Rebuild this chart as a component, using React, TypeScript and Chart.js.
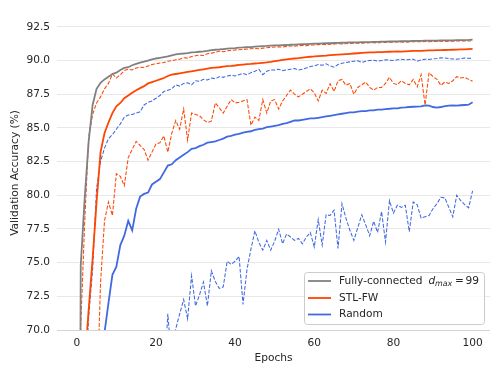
import React, { useEffect, useRef } from 'react';
import { Chart, registerables } from 'chart.js';

Chart.register(...registerables);

// ---- data (epochs 0..100) ----
const fullyConnected = [
  10, 74.8, 79.8, 84.0, 86.7, 87.9, 88.35, 88.6, 88.8, 89.0,
  89.1, 89.3, 89.45, 89.5, 89.65, 89.75, 89.85, 89.92, 90.0, 90.08,
  90.15, 90.2, 90.25, 90.3, 90.38, 90.45, 90.5, 90.52, 90.55, 90.6,
  90.62, 90.65, 90.68, 90.72, 90.77, 90.8, 90.82, 90.85, 90.88, 90.9,
  90.92, 90.95, 90.97, 91.0, 91.0, 91.03, 91.05, 91.07, 91.08, 91.1,
  91.12, 91.13, 91.14, 91.15, 91.17, 91.18, 91.2, 91.21, 91.22, 91.24,
  91.25, 91.26, 91.27, 91.28, 91.29, 91.3, 91.31, 91.32, 91.33, 91.34,
  91.35, 91.35, 91.36, 91.37, 91.37, 91.38, 91.39, 91.4, 91.4, 91.41,
  91.42, 91.42, 91.43, 91.44, 91.44, 91.45, 91.46, 91.46, 91.47, 91.47,
  91.48, 91.48, 91.49, 91.5, 91.5, 91.5, 91.51, 91.52, 91.52, 91.53,
  91.55,
];

const stlFw = [
  10, 40, 67.5, 71.5, 75.3, 79.5, 83.2, 84.6, 85.4, 86.1,
  86.6, 86.85, 87.2, 87.4, 87.6, 87.8, 87.95, 88.1, 88.3, 88.4,
  88.5, 88.6, 88.7, 88.85, 88.95, 89.0, 89.05, 89.1, 89.15, 89.2,
  89.25, 89.3, 89.35, 89.4, 89.45, 89.48, 89.5, 89.55, 89.58, 89.6,
  89.63, 89.67, 89.7, 89.73, 89.75, 89.78, 89.8, 89.83, 89.86, 89.9,
  89.95, 90.0, 90.04, 90.08, 90.12, 90.15, 90.18, 90.22, 90.25, 90.28,
  90.3, 90.33, 90.35, 90.37, 90.4, 90.42, 90.44, 90.46, 90.48, 90.5,
  90.52, 90.54, 90.56, 90.58, 90.6, 90.61, 90.62, 90.63, 90.64, 90.65,
  90.66, 90.67, 90.66, 90.68, 90.7, 90.71, 90.72, 90.72, 90.74, 90.75,
  90.76, 90.77, 90.77, 90.78, 90.79, 90.8, 90.81, 90.82, 90.83, 90.85,
  90.87,
];

const randomTopo = [
  10, 30, 45, 52, 58, 62, 66, 69.8, 72.0, 74.1,
  74.7, 76.3, 77.0, 78.1, 77.4, 79.0, 79.9, 80.1, 80.2, 80.8,
  81.0, 81.2, 81.7, 82.2, 82.3, 82.6, 82.8, 83.0, 83.2, 83.45,
  83.5, 83.65, 83.75, 83.9, 83.95, 84.0, 84.1, 84.2, 84.35, 84.4,
  84.5, 84.55, 84.65, 84.7, 84.75, 84.85, 84.9, 84.95, 85.05, 85.1,
  85.15, 85.2, 85.3, 85.35, 85.45, 85.55, 85.55, 85.6, 85.65, 85.7,
  85.7, 85.75, 85.8, 85.85, 85.9, 85.95, 86.0, 86.05, 86.1, 86.15,
  86.15, 86.2, 86.25, 86.25, 86.3, 86.3, 86.35, 86.35, 86.4, 86.42,
  86.45, 86.45, 86.5, 86.52, 86.55, 86.57, 86.58, 86.6, 86.67, 86.65,
  86.55, 86.5, 86.55, 86.62, 86.65, 86.67, 86.65, 86.68, 86.7, 86.72,
  86.9,
];

const stlFwDashA = [
  10, 70.3, 78.0, 84.3, 86.0, 86.85, 87.3, 87.9, 88.3, 89.0,
  88.7, 88.95, 89.25, 89.35, 89.3, 89.45, 89.5, 89.48, 89.6, 89.7,
  89.75, 89.82, 89.85, 89.95, 89.98, 90.05, 90.1, 90.2, 90.18, 90.3,
  90.35, 90.4, 90.38, 90.5, 90.55, 90.6, 90.7, 90.65, 90.72, 90.75,
  90.78, 90.8, 90.82, 90.85, 90.88, 90.9, 90.88, 90.92, 90.95, 90.98,
  91.0, 91.02, 91.0, 91.05, 91.08, 91.07, 91.1, 91.12, 91.1, 91.15,
  91.15, 91.18, 91.2, 91.18, 91.2, 91.22, 91.25, 91.23, 91.25, 91.27,
  91.28, 91.3, 91.28, 91.3, 91.32, 91.33, 91.3, 91.35, 91.34, 91.36,
  91.35, 91.38, 91.37, 91.36, 91.38, 91.4, 91.39, 91.4, 91.41, 91.4,
  91.42, 91.41, 91.43, 91.42, 91.44, 91.43, 91.45, 91.44, 91.46, 91.45,
  91.47,
];

const stlFwDashB = [
  10, 30, 45, 55, 60, 64, 73.5, 78.1, 79.5, 78.5,
  81.6, 81.4, 80.7, 82.8, 83.4, 84.0, 83.7, 83.4, 82.6, 83.2,
  83.8, 83.9, 84.4, 83.2, 84.6, 85.55, 84.9, 86.4, 84.1, 86.1,
  86.0, 85.9, 85.6, 85.4, 85.5, 86.85, 86.5, 86.1, 86.6, 87.1,
  86.85, 86.9, 87.0, 87.1, 85.2, 85.8, 85.55, 87.1, 86.1, 87.0,
  87.1, 86.4, 87.0, 87.4, 87.8, 87.5, 87.3, 87.5, 87.7, 87.9,
  87.6, 87.0, 87.8, 87.56, 88.27, 87.7, 88.5, 88.6, 88.16, 88.3,
  87.5, 88.0, 88.2, 88.4, 88.0, 87.8, 88.0, 88.0, 88.3, 88.75,
  88.3, 88.2, 88.5, 88.3, 88.2, 88.6, 88.04, 88.95, 86.7, 89.1,
  88.8, 88.6, 88.16, 88.4, 88.3, 88.5, 88.8, 88.7, 88.75, 88.6,
  88.46,
];

const randomDashA = [
  10, 40, 65, 71.0, 74.5, 80.5, 82.5, 83.5, 84.2, 84.5,
  84.9, 85.3, 85.8, 85.95, 86.0, 86.1, 86.2, 86.7, 86.9, 87.0,
  87.2, 87.4, 87.7, 87.8, 87.9, 88.2, 88.1, 88.3, 88.35, 88.2,
  88.5, 88.45, 88.6, 88.55, 88.7, 88.65, 88.8, 88.75, 88.85, 88.9,
  88.85, 88.95, 89.05, 88.95, 89.1, 89.2, 89.35, 88.95, 89.2, 89.3,
  89.3, 89.35, 89.25, 89.3, 89.35, 89.4, 89.3, 89.35, 89.45, 89.55,
  89.6, 89.7, 89.65, 89.75, 89.6, 89.5, 89.7, 89.8, 89.85, 89.9,
  89.95, 89.98, 89.85, 89.95, 90.0, 90.02, 89.95, 90.0, 90.05, 90.03,
  90.0, 90.05, 90.1, 90.05, 90.08, 90.1, 89.95, 90.05, 90.1, 90.08,
  90.12, 90.15, 90.2, 90.18, 90.15, 90.12, 90.1, 90.15, 90.18, 90.17,
  90.15,
];

const randomDashB = [
  10, 20, 30, 38, 44, 48, 52, 55, 57, 59,
  60, 61, 62, 62.5, 63, 64, 64.5, 65, 65.5, 66,
  66, 65.5, 66, 71.2, 67.5, 70.1, 71.2, 72.26, 70.83, 74.03,
  71.78, 72.6, 73.56, 71.78, 74.39, 73.6, 73.09, 73.2, 75.1, 74.87,
  75.1, 75.46, 71.9, 74.5, 76.0, 77.36, 76.5, 75.93, 76.65, 75.93,
  76.6, 77.48, 76.4, 77.12, 76.9, 76.65, 76.8, 76.4, 76.9, 77.24,
  76.17, 78.19, 76.3, 78.55, 78.5, 78.9, 76.05, 79.38, 78.3, 77.4,
  76.65, 77.6, 78.55, 77.8, 77.0, 78.07, 77.24, 78.79, 76.53, 79.6,
  78.67, 79.26, 79.1, 79.26, 77.3, 79.5, 79.3, 78.3, 78.4, 78.5,
  79.0, 79.38, 79.85, 79.8, 79.1, 78.4, 80.0, 79.6, 79.3, 79.07,
  80.33,
];

const xTicks = [0, 20, 40, 60, 80, 100];
const yTicks = [70, 72.5, 75, 77.5, 80, 82.5, 85, 87.5, 90, 92.5];

const seriesLabels = ['Fully-connected', 'STL-FW', 'Random'];
const GRAY = '#808080';
const ORANGE = '#ff4500';
const BLUE = '#4169e1';
const TEXT = '#262626';
const FONT = '"DejaVu Sans"';
const FS = 10.6;

const toPts = (arr: number[]) => arr.map((v, i) => ({ x: i, y: v }));

const overlay = {
  id: 'overlay',
  afterDraw(chart: any) {
    const ctx = chart.ctx as CanvasRenderingContext2D;
    // y axis title
    ctx.save();
    ctx.translate(15, 173);
    ctx.rotate(-Math.PI / 2);
    ctx.font = `${FS}px ${FONT}`;
    ctx.fillStyle = TEXT;
    ctx.textAlign = 'center';
    ctx.textBaseline = 'middle';
    ctx.fillText('Validation Accuracy (%)', 0, 0);
    ctx.restore();

    // legend
    ctx.save();
    const bx = 304.5, by = 272.5, bw = 180, bh = 52;
    ctx.beginPath();
    (ctx as any).roundRect(bx, by, bw, bh, 3);
    ctx.fillStyle = 'rgba(255,255,255,0.8)';
    ctx.fill();
    ctx.strokeStyle = '#cccccc';
    ctx.lineWidth = 1;
    ctx.stroke();

    const rows = [281, 298, 314.5];
    const cols = [GRAY, ORANGE, BLUE];
    rows.forEach((ry, i) => {
      ctx.beginPath();
      ctx.strokeStyle = cols[i];
      ctx.lineWidth = 1.8;
      ctx.moveTo(308, ry);
      ctx.lineTo(331, ry);
      ctx.stroke();
      ctx.fillStyle = TEXT;
      ctx.textBaseline = 'middle';
      ctx.textAlign = 'left';
      ctx.font = `${FS}px ${FONT}`;
      const x = 339;
      if (i === 0) {
        ctx.fillText(seriesLabels[0], x, ry);
        ctx.font = `italic ${FS}px ${FONT}`;
        ctx.fillText('d', 428.5, ry);
        ctx.font = `italic ${FS * 0.75}px ${FONT}`;
        ctx.fillText('max', 435, ry + 2.8);
        ctx.font = `${FS}px ${FONT}`;
        ctx.fillText('=', 455, ry);
        ctx.fillText('99', 465.5, ry);
      } else {
        ctx.fillText(seriesLabels[i], x, ry);
      }
    });
    ctx.restore();
  },
};

export default function App() {
  const ref = useRef<HTMLCanvasElement | null>(null);
  useEffect(() => {
    if (!ref.current) return;
    const solid = (data: number[], color: string, label: string) => ({
      label,
      data: toPts(data),
      borderColor: color,
      backgroundColor: color,
      borderWidth: 1.8,
      pointRadius: 0,
      tension: 0,
      fill: false,
    });
    const dashed = (data: number[], color: string) => ({
      label: '',
      data: toPts(data),
      borderColor: color,
      backgroundColor: color,
      borderWidth: 1.05,
      borderDash: [3.9, 1.7],
      pointRadius: 0,
      tension: 0,
      fill: false,
    });
    const chart = new Chart(ref.current, {
      type: 'line',
      data: {
        datasets: [
          solid(fullyConnected, GRAY, seriesLabels[0]),
          solid(stlFw, ORANGE, seriesLabels[1]),
          solid(randomTopo, BLUE, seriesLabels[2]),
          dashed(stlFwDashA, ORANGE),
          dashed(randomDashA, BLUE),
          dashed(stlFwDashB, ORANGE),
          dashed(randomDashB, BLUE),
        ] as any,
      },
      options: {
        animation: false,
        responsive: false,
        devicePixelRatio: 1,
        layout: { padding: 0 },
        plugins: { legend: { display: false }, tooltip: { enabled: false } },
        scales: {
          x: {
            type: 'linear',
            min: -5,
            max: 104.4,
            afterBuildTicks: (s: any) => {
              s.ticks = xTicks.map((v) => ({ value: v }));
            },
            afterFit: (s: any) => {
              s.height = 36;
            },
            grid: { display: false, drawTicks: false },
            border: { display: true, color: '#d4d4d4', width: 1 },
            ticks: {
              color: TEXT,
              font: { family: 'DejaVu Sans', size: FS },
              padding: 6.5,
              maxRotation: 0,
              autoSkip: false,
              callback: (v: any) => String(v),
            },
            title: {
              display: true,
              text: 'Epochs',
              color: TEXT,
              font: { family: 'DejaVu Sans', size: FS },
              padding: { top: 0, bottom: 1.5 },
            },
          },
          y: {
            type: 'linear',
            min: 70,
            max: 93.5,
            afterBuildTicks: (s: any) => {
              s.ticks = yTicks.map((v) => ({ value: v }));
            },
            afterFit: (s: any) => {
              s.width = 57;
            },
            grid: { color: '#e8e8e8', lineWidth: 1, drawTicks: false },
            border: { display: false },
            ticks: {
              color: TEXT,
              font: { family: 'DejaVu Sans', size: FS },
              padding: 7,
              autoSkip: false,
              callback: (v: any) => Number(v).toFixed(1),
            },
          },
        },
      },
      plugins: [overlay],
    } as any);
    return () => chart.destroy();
  }, []);
  return (
    <div style={{ position: 'absolute', left: 0, top: 0, width: 490, height: 366, background: '#fff' }}>
      <canvas ref={ref} width={490} height={366} style={{ display: 'block' }} />
    </div>
  );
}
